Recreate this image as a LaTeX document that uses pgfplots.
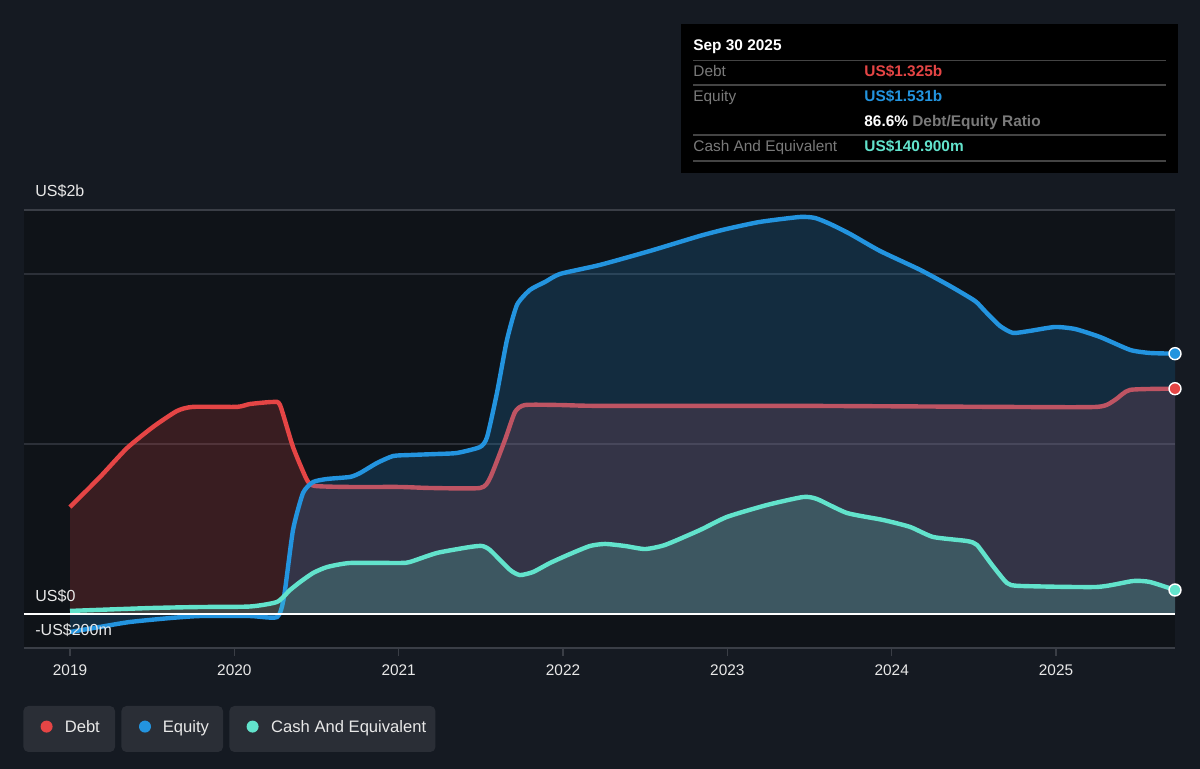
\documentclass[border=0pt]{standalone}
\usepackage{pgfplots}
\pgfplotsset{compat=1.18}
\usepackage{fontspec}
\setmainfont{Liberation Sans}
\definecolor{bgc}{HTML}{151A22}
\definecolor{plotbg}{HTML}{0F1318}
\definecolor{gridc}{HTML}{3A3E46}
\definecolor{gridf}{HTML}{2C3038}
\definecolor{debtc}{HTML}{E54545}
\definecolor{eqc}{HTML}{2394DF}
\definecolor{cashc}{HTML}{62E3CC}
\definecolor{labc}{HTML}{E8E8E8}
\definecolor{tipgray}{HTML}{7A7A7A}
\definecolor{tipline}{HTML}{444444}
\definecolor{legbox}{HTML}{2A2E36}
\begin{document}
\begin{tikzpicture}
\fill[bgc] (0,0) rectangle (600pt,384.5pt);
\begin{axis}[
  at={(12pt,60.5pt)}, anchor=south west,
  width=575.5pt, height=219pt, scale only axis,
  xmin=2018.720, xmax=2025.724, ymin=-0.2, ymax=2.376,
  clip=false,
  axis background/.style={fill=plotbg},
  separate axis lines,
  axis x line*=bottom, hide y axis,
  x axis line style={draw=gridc, line width=0.8pt, -},
  xtick={2019,2020,2021,2022,2023,2024,2025},
  xticklabels={2019,2020,2021,2022,2023,2024,2025},
  xtick style={draw=gridc, line width=0.8pt},
  major tick length=4pt, tick align=outside,
  xticklabel style={font=\fontsize{7.7}{9}\selectfont, text=labc, yshift=-1pt},
]
% grid lines
\draw[gridc, line width=0.8pt] (axis cs:2018.720,2.376) -- (axis cs:2025.724,2.376);
\draw[gridf, line width=0.6pt] (axis cs:2018.720,2) -- (axis cs:2025.724,2);
\draw[gridf, line width=0.6pt] (axis cs:2018.720,1) -- (axis cs:2025.724,1);

% Debt
\addplot[draw=none, fill=debtc, fill opacity=0.2, smooth, tension=0.35] coordinates {
(2019.000,0.629) (2019.183,0.806) (2019.347,0.976) (2019.505,1.100) (2019.651,1.194)
(2019.748,1.218) (2020.016,1.218) (2020.095,1.235) (2020.235,1.247) (2020.278,1.229)
(2020.357,0.982) (2020.442,0.788) (2020.491,0.753) (2020.704,0.747) (2021.008,0.747)
(2021.191,0.741) (2021.495,0.741) (2021.556,0.800) (2021.647,1.024) (2021.708,1.188)
(2021.769,1.229) (2021.982,1.229) (2022.225,1.224) (2023.442,1.224) (2024.659,1.218)
(2025.250,1.218) (2025.359,1.259) (2025.451,1.318) (2025.724,1.325)} \closedcycle;
\addplot[debtc, line width=2.2pt, smooth, tension=0.35] coordinates {
(2019.000,0.629) (2019.183,0.806) (2019.347,0.976) (2019.505,1.100) (2019.651,1.194)
(2019.748,1.218) (2020.016,1.218) (2020.095,1.235) (2020.235,1.247) (2020.278,1.229)
(2020.357,0.982) (2020.442,0.788) (2020.491,0.753) (2020.704,0.747) (2021.008,0.747)
(2021.191,0.741) (2021.495,0.741) (2021.556,0.800) (2021.647,1.024) (2021.708,1.188)
(2021.769,1.229) (2021.982,1.229) (2022.225,1.224) (2023.442,1.224) (2024.659,1.218)
(2025.250,1.218) (2025.359,1.259) (2025.451,1.318) (2025.724,1.325)};

% Equity
\addplot[draw=none, fill=eqc, fill opacity=0.2, smooth, tension=0.35] coordinates {
(2019.000,-0.106) (2019.183,-0.076) (2019.365,-0.047) (2019.609,-0.024) (2019.791,-0.012)
(2020.095,-0.012) (2020.260,-0.018) (2020.302,0.100) (2020.357,0.494) (2020.418,0.712)
(2020.479,0.776) (2020.564,0.794) (2020.704,0.806) (2020.765,0.829) (2020.868,0.888)
(2020.966,0.929) (2021.069,0.935) (2021.233,0.941) (2021.355,0.947) (2021.495,0.982)
(2021.538,1.041) (2021.598,1.300) (2021.659,1.612) (2021.720,1.818) (2021.799,1.906)
(2021.891,1.953) (2021.982,2.000) (2022.225,2.053) (2022.529,2.135) (2022.834,2.224)
(2022.998,2.265) (2023.199,2.306) (2023.442,2.335) (2023.534,2.329) (2023.625,2.294)
(2023.747,2.235) (2023.929,2.135) (2024.173,2.024) (2024.355,1.929) (2024.507,1.841)
(2024.567,1.782) (2024.659,1.694) (2024.738,1.653) (2024.842,1.665) (2024.994,1.688)
(2025.116,1.676) (2025.268,1.629) (2025.451,1.553) (2025.572,1.535) (2025.724,1.531)} \closedcycle;
\addplot[eqc, line width=2.2pt, smooth, tension=0.35] coordinates {
(2019.000,-0.106) (2019.183,-0.076) (2019.365,-0.047) (2019.609,-0.024) (2019.791,-0.012)
(2020.095,-0.012) (2020.260,-0.018) (2020.302,0.100) (2020.357,0.494) (2020.418,0.712)
(2020.479,0.776) (2020.564,0.794) (2020.704,0.806) (2020.765,0.829) (2020.868,0.888)
(2020.966,0.929) (2021.069,0.935) (2021.233,0.941) (2021.355,0.947) (2021.495,0.982)
(2021.538,1.041) (2021.598,1.300) (2021.659,1.612) (2021.720,1.818) (2021.799,1.906)
(2021.891,1.953) (2021.982,2.000) (2022.225,2.053) (2022.529,2.135) (2022.834,2.224)
(2022.998,2.265) (2023.199,2.306) (2023.442,2.335) (2023.534,2.329) (2023.625,2.294)
(2023.747,2.235) (2023.929,2.135) (2024.173,2.024) (2024.355,1.929) (2024.507,1.841)
(2024.567,1.782) (2024.659,1.694) (2024.738,1.653) (2024.842,1.665) (2024.994,1.688)
(2025.116,1.676) (2025.268,1.629) (2025.451,1.553) (2025.572,1.535) (2025.724,1.531)};

% Cash
\addplot[draw=none, fill=cashc, fill opacity=0.2, smooth, tension=0.35] coordinates {
(2019.000,0.018) (2019.487,0.035) (2019.791,0.041) (2020.095,0.044) (2020.260,0.071)
(2020.339,0.141) (2020.400,0.188) (2020.479,0.241) (2020.564,0.276) (2020.704,0.300)
(2021.008,0.300) (2021.069,0.306) (2021.233,0.359) (2021.434,0.394) (2021.507,0.400)
(2021.556,0.376) (2021.678,0.259) (2021.738,0.229) (2021.818,0.247) (2021.921,0.300)
(2022.043,0.353) (2022.164,0.400) (2022.256,0.412) (2022.377,0.400) (2022.499,0.382)
(2022.621,0.406) (2022.834,0.494) (2022.998,0.571) (2023.241,0.641) (2023.461,0.688)
(2023.546,0.676) (2023.728,0.594) (2023.947,0.553) (2024.112,0.512) (2024.252,0.453)
(2024.459,0.429) (2024.519,0.406) (2024.611,0.288) (2024.702,0.182) (2024.781,0.165)
(2025.250,0.159) (2025.469,0.194) (2025.572,0.188) (2025.724,0.141)} \closedcycle;
\addplot[cashc, line width=2.2pt, smooth, tension=0.35] coordinates {
(2019.000,0.018) (2019.487,0.035) (2019.791,0.041) (2020.095,0.044) (2020.260,0.071)
(2020.339,0.141) (2020.400,0.188) (2020.479,0.241) (2020.564,0.276) (2020.704,0.300)
(2021.008,0.300) (2021.069,0.306) (2021.233,0.359) (2021.434,0.394) (2021.507,0.400)
(2021.556,0.376) (2021.678,0.259) (2021.738,0.229) (2021.818,0.247) (2021.921,0.300)
(2022.043,0.353) (2022.164,0.400) (2022.256,0.412) (2022.377,0.400) (2022.499,0.382)
(2022.621,0.406) (2022.834,0.494) (2022.998,0.571) (2023.241,0.641) (2023.461,0.688)
(2023.546,0.676) (2023.728,0.594) (2023.947,0.553) (2024.112,0.512) (2024.252,0.453)
(2024.459,0.429) (2024.519,0.406) (2024.611,0.288) (2024.702,0.182) (2024.781,0.165)
(2025.250,0.159) (2025.469,0.194) (2025.572,0.188) (2025.724,0.141)};

% zero line
\draw[white, line width=0.8pt] (axis cs:2018.720,0) -- (axis cs:2025.724,0);

% end markers
\addplot[only marks, mark=*, mark size=3pt, mark options={fill=debtc, draw=white, line width=0.7pt}] coordinates {(2025.724,1.325)};
\addplot[only marks, mark=*, mark size=3pt, mark options={fill=eqc, draw=white, line width=0.7pt}] coordinates {(2025.724,1.531)};
\addplot[only marks, mark=*, mark size=3pt, mark options={fill=cashc, draw=white, line width=0.7pt}] coordinates {(2025.724,0.141)};
\end{axis}

% y labels
\node[anchor=base west, text=labc, inner sep=0pt, font=\fontsize{8}{9}\selectfont] at (17.5pt,286pt) {US\$2b};
\node[anchor=base west, text=labc, inner sep=0pt, font=\fontsize{8}{9}\selectfont] at (17.5pt,83.5pt) {US\$0};
\node[anchor=base west, text=labc, inner sep=0pt, font=\fontsize{8}{9}\selectfont] at (17.5pt,66.5pt) {-US\$200m};

% tooltip
\fill[black] (340.5pt,372.5pt) rectangle (589pt,298pt);
\node[anchor=base west, text=white, inner sep=0pt, font=\bfseries\fontsize{7.7}{9}\selectfont] at (346.5pt,359.2pt) {Sep 30 2025};
\foreach \yy in {354.3,342,317,304} {\draw[tipline, line width=0.6pt] (346.5pt,\yy pt) -- (583pt,\yy pt);}
\node[anchor=base west, text=tipgray, inner sep=0pt, font=\fontsize{7.7}{9}\selectfont] at (346.5pt,346.2pt) {Debt};
\node[anchor=base west, text=debtc, inner sep=0pt, font=\bfseries\fontsize{7.7}{9}\selectfont] at (432pt,346.2pt) {US\$1.325b};
\node[anchor=base west, text=tipgray, inner sep=0pt, font=\fontsize{7.7}{9}\selectfont] at (346.5pt,333.7pt) {Equity};
\node[anchor=base west, text=eqc, inner sep=0pt, font=\bfseries\fontsize{7.7}{9}\selectfont] at (432pt,333.7pt) {US\$1.531b};
\node[anchor=base west, inner sep=0pt, font=\fontsize{7.7}{9}\selectfont] at (432pt,321.2pt) {\textcolor{white}{\bfseries 86.6\%} \textcolor{tipgray}{\bfseries Debt/Equity Ratio}};
\node[anchor=base west, text=tipgray, inner sep=0pt, font=\fontsize{7.7}{9}\selectfont] at (346.5pt,308.7pt) {Cash And Equivalent};
\node[anchor=base west, text=cashc, inner sep=0pt, font=\bfseries\fontsize{7.7}{9}\selectfont] at (432pt,308.7pt) {US\$140.900m};

% legend
\fill[legbox, rounded corners=2.5pt] (11.7pt,31.5pt) rectangle (57.5pt,8.5pt);
\fill[legbox, rounded corners=2.5pt] (60.7pt,31.5pt) rectangle (111.5pt,8.5pt);
\fill[legbox, rounded corners=2.5pt] (114.7pt,31.5pt) rectangle (217.7pt,8.5pt);
\fill[debtc] (23.3pt,21.2pt) circle (3pt);
\fill[eqc] (72.5pt,21.2pt) circle (3pt);
\fill[cashc] (126.3pt,21.2pt) circle (3pt);
\node[anchor=base west, text=labc, inner sep=0pt, font=\fontsize{8.3}{9}\selectfont] at (32.2pt,18.2pt) {Debt};
\node[anchor=base west, text=labc, inner sep=0pt, font=\fontsize{8.3}{9}\selectfont] at (81.2pt,18.2pt) {Equity};
\node[anchor=base west, text=labc, inner sep=0pt, font=\fontsize{8.3}{9}\selectfont] at (135.4pt,18.2pt) {Cash And Equivalent};
\end{tikzpicture}
\end{document}
